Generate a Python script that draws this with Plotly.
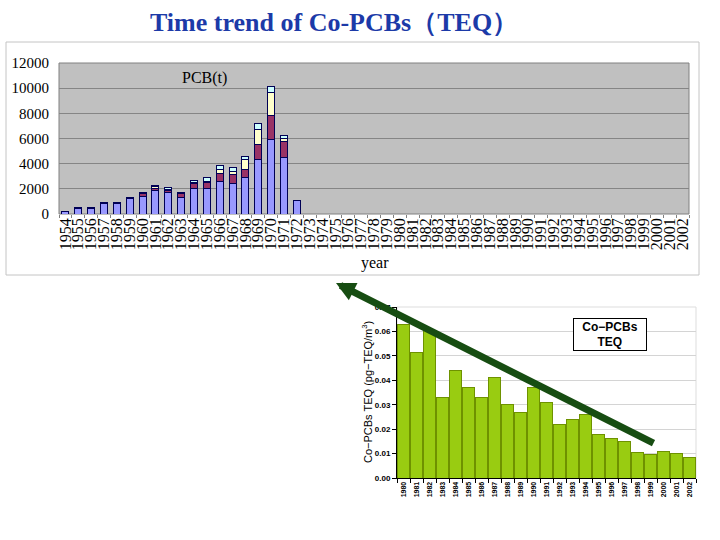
import plotly.graph_objects as go

# ---------------- data ----------------
top_year_labels = [str(y) for y in range(1954, 2003)]
pcb_years = [str(y) for y in range(1954, 1973)]
pcb_blue   = [180, 450, 450, 850, 850, 1200, 1400, 1900, 1700, 1300, 2000, 2000, 2600, 2400, 2900, 4300, 5900, 4500, 1050]
pcb_maroon = [20, 50, 50, 50, 50, 100, 200, 100, 150, 350, 400, 500, 650, 700, 650, 1200, 1950, 1250, 0]
pcb_yellow = [0, 0, 0, 0, 0, 0, 0, 150, 100, 0, 100, 100, 300, 300, 750, 1250, 1800, 250, 0]
pcb_cyan   = [0, 0, 0, 0, 0, 0, 100, 150, 150, 50, 200, 300, 300, 300, 300, 450, 450, 200, 50]
pcb_ticks  = [0, 2000, 4000, 6000, 8000, 10000, 12000]

teq_years = [str(y) for y in range(1980, 2003)]
teq_values = [0.063, 0.0515, 0.0605, 0.033, 0.044, 0.037, 0.033, 0.041, 0.030, 0.027,
              0.037, 0.031, 0.022, 0.024, 0.026, 0.018, 0.016, 0.015, 0.0105, 0.0097,
              0.011, 0.010, 0.0085]
teq_ticks = [0.00, 0.01, 0.02, 0.03, 0.04, 0.05, 0.06, 0.07]

W, H = 720, 540
def px(x): return x / W
def py(y): return 1 - y / H

fig = go.Figure()

for vals, col in [(pcb_blue, "#9999FF"), (pcb_maroon, "#993366"),
                  (pcb_yellow, "#FFFFCC"), (pcb_cyan, "#CCFFFF")]:
    fig.add_trace(go.Bar(x=pcb_years, y=vals, xaxis="x", yaxis="y", width=0.55,
                         marker=dict(color=col, line=dict(color="#000055", width=1)),
                         showlegend=False))

fig.add_trace(go.Bar(x=teq_years, y=teq_values, xaxis="x2", yaxis="y2", width=0.92,
                     marker=dict(color="#99CC11", line=dict(color="#6E9200", width=1)),
                     showlegend=False))

serif = "Liberation Serif"
sans = "Liberation Sans"

fig.update_layout(
    template="none",
    width=W, height=H, margin=dict(l=0, r=0, t=0, b=0, autoexpand=False),
    paper_bgcolor="white", plot_bgcolor="rgba(0,0,0,0)",
    barmode="stack", showlegend=False,
    xaxis=dict(domain=[px(59), px(689)], anchor="y", type="category",
               categoryorder="array", categoryarray=top_year_labels,
               range=[-0.5, len(top_year_labels) - 0.5],
               tickmode="array", tickvals=top_year_labels, ticktext=top_year_labels,
               tickangle=-90, tickfont=dict(family=serif, size=16, color="black"),
               ticks="outside", tickson="boundaries", ticklen=3, tickcolor="#808080",
               showline=False, showgrid=False, automargin=False, zeroline=False),
    yaxis=dict(domain=[py(214), py(63)], anchor="x", range=[0, 12000],
               tickmode="array", tickvals=pcb_ticks, ticktext=[str(v) for v in pcb_ticks],
               tickfont=dict(family=serif, size=15, color="black"),
               gridcolor="#858585", gridwidth=1, zeroline=False, ticks="",
               ticklabelstandoff=9, showline=False, automargin=False),
    xaxis2=dict(domain=[px(397), px(696)], anchor="y2", type="category",
                categoryorder="array", categoryarray=teq_years,
                range=[-0.5, len(teq_years) - 0.5],
                tickmode="array", tickvals=teq_years, ticktext=teq_years,
                tickangle=-90, tickfont=dict(family=sans, size=7, color="black", weight="bold"),
                ticks="outside", tickson="boundaries", ticklen=4, tickcolor="black",
                showline=True, linecolor="black", linewidth=1, showgrid=False,
                automargin=False, zeroline=False),
    yaxis2=dict(domain=[py(478), py(307)], anchor="x2", range=[0, 0.07],
                tickmode="array", tickvals=teq_ticks, ticktext=["%.2f" % v for v in teq_ticks],
                tickfont=dict(family=sans, size=8, color="black", weight="bold"),
                ticks="outside", ticklen=4, tickcolor="black",
                showline=True, linecolor="black", linewidth=1,
                gridcolor="#D4D4D4", zeroline=False, automargin=False),
)

fig.add_shape(type="rect", xref="paper", yref="paper",
              x0=px(6), x1=px(699), y0=py(275), y1=py(42),
              line=dict(color="#C4C4C4", width=1), fillcolor="white", layer="below")
fig.add_shape(type="rect", xref="x domain", yref="y domain", x0=0, x1=1, y0=0, y1=1,
              line=dict(color="#808080", width=1), fillcolor="#C0C0C0", layer="below")
fig.add_shape(type="rect", xref="x2 domain", yref="y2 domain", x0=0, x1=1, y0=0, y1=1,
              line=dict(color="#DDDDDD", width=1), fillcolor="rgba(0,0,0,0)", layer="below")

fig.add_annotation(text="<b>Time trend of Co-PCBs（TEQ）</b>", xref="paper", yref="paper",
                   x=px(334), y=py(22), xanchor="center", yanchor="middle", showarrow=False,
                   font=dict(family=serif, size=26, color="#1C3AA8"))
fig.add_annotation(text="PCB(t)", xref="paper", yref="paper", x=px(204), y=py(78),
                   xanchor="center", yanchor="middle",
                   showarrow=False, font=dict(family=serif, size=16, color="black"))
fig.add_annotation(text="year", xref="paper", yref="paper", x=px(375), y=py(263),
                   xanchor="center", yanchor="middle",
                   showarrow=False, font=dict(family=serif, size=16, color="black"))
fig.add_annotation(text="Co−PCBs TEQ (pg−TEQ/m<sup>3</sup>)", xref="paper", yref="paper",
                   x=px(367), y=py(392), xanchor="center", yanchor="middle",
                   textangle=-90, showarrow=False,
                   font=dict(family=sans, size=11, color="black"))
fig.add_annotation(text="<b>Co−PCBs<br>TEQ</b>", xref="paper", yref="paper",
                   x=px(610), y=py(334), xanchor="center", yanchor="middle",
                   showarrow=False, width=70, height=29,
                   bordercolor="black", borderwidth=1, bgcolor="white",
                   font=dict(family=sans, size=12, color="black"))
fig.add_annotation(text="", xref="paper", yref="paper", x=px(336), y=py(283),
                   ax=655 - 336, ay=444 - 283, axref="pixel", ayref="pixel",
                   showarrow=True, arrowhead=2, arrowsize=0.55, arrowwidth=7,
                   arrowcolor="#174D12")

fig.write_html("out.html")
